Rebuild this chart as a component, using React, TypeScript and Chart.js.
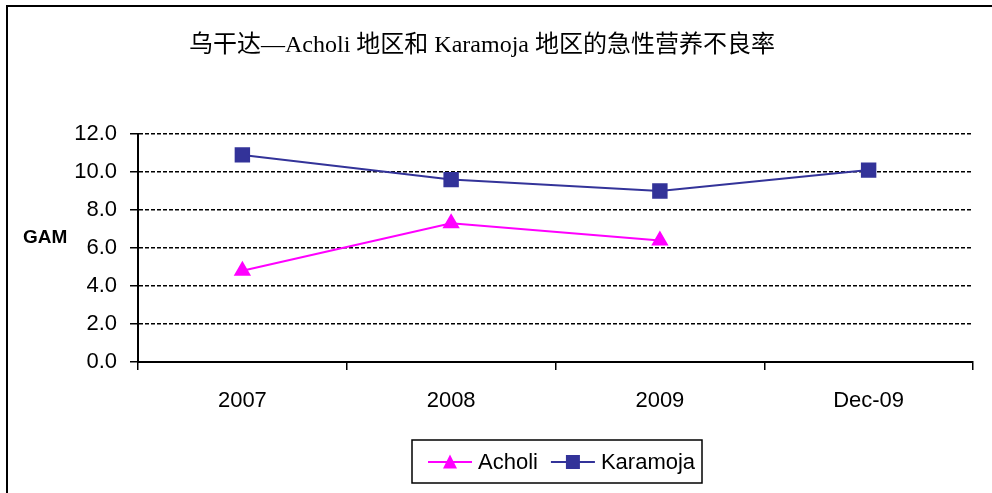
import React, { useEffect, useRef } from "react";
import { Chart, registerables } from "chart.js";

Chart.register(...registerables);

const categories = ["2007", "2008", "2009", "Dec-09"];
const acholiValues = [4.8, 7.3, 6.4, null];
const karamojaValues = [10.9, 9.6, 9.0, 10.1];
const seriesNames = ["Acholi", "Karamoja"];
const seriesColors = ["#FF00FF", "#333399"];
const seriesMarkers = ["triangle", "rect"];
const yMin = 0;
const yMax = 12;
const yStep = 2;
const titleText = "乌干达—Acholi 地区和 Karamoja 地区的急性营养不良率";
const yAxisLabel = "GAM";

const SANS = '"Liberation Sans", Arial, sans-serif';

function drawMarker(ctx: CanvasRenderingContext2D, style: string, x: number, y: number, color: string) {
  ctx.save();
  ctx.fillStyle = color;
  ctx.strokeStyle = color;
  ctx.lineWidth = 1;
  ctx.beginPath();
  if (style === "triangle") {
    ctx.moveTo(x, y - 7.5);
    ctx.lineTo(x + 7, y + 6.5);
    ctx.lineTo(x - 7, y + 6.5);
    ctx.closePath();
  } else {
    ctx.rect(x - 7, y - 7, 14, 14);
  }
  ctx.fill();
  ctx.restore();
}

const decorPlugin = {
  id: "decor",
  afterDraw(chart: any) {
    const ctx: CanvasRenderingContext2D = chart.ctx;
    ctx.save();
    // outer frame (left and top edges visible)
    ctx.strokeStyle = "#000";
    ctx.lineWidth = 2;
    ctx.beginPath();
    ctx.moveTo(7, 600);
    ctx.lineTo(7, 6);
    ctx.lineTo(1200, 6);
    ctx.stroke();

    // title
    ctx.fillStyle = "#000";
    ctx.font = '24px "Liberation Serif", "Noto Sans CJK SC", serif';
    ctx.textAlign = "center";
    ctx.textBaseline = "middle";
    ctx.fillText(titleText, 482, 46);

    // y axis label (horizontal)
    ctx.font = "bold 19px " + SANS;
    ctx.textAlign = "left";
    ctx.fillText(yAxisLabel, 23, 238);

    // legend
    const boxX = 412, boxY = 440, boxW = 290, boxH = 43;
    ctx.lineWidth = 1.5;
    ctx.strokeStyle = "#000";
    ctx.strokeRect(boxX, boxY, boxW, boxH);
    ctx.font = "22px " + SANS;
    ctx.textBaseline = "middle";
    let x = 428;
    const ly = 462;
    chart.data.datasets.forEach((ds: any) => {
      ctx.strokeStyle = ds.borderColor;
      ctx.lineWidth = 2;
      ctx.beginPath();
      ctx.moveTo(x, ly);
      ctx.lineTo(x + 44, ly);
      ctx.stroke();
      drawMarker(ctx, ds.pointStyle, x + 22, ly, ds.borderColor);
      ctx.fillStyle = "#000";
      ctx.fillText(ds.label, x + 50, ly + 1);
      const w = ctx.measureText(ds.label).width;
      x = x + 50 + w + 13;
    });
    ctx.restore();
  },
};

export default function App() {
  const ref = useRef<HTMLCanvasElement | null>(null);

  useEffect(() => {
    if (!ref.current) return;
    const chart = new Chart(ref.current, {
      type: "line",
      data: {
        labels: categories,
        datasets: [
          {
            label: seriesNames[0],
            data: acholiValues,
            borderColor: seriesColors[0],
            backgroundColor: seriesColors[0],
            pointBackgroundColor: seriesColors[0],
            pointBorderColor: seriesColors[0],
            pointStyle: seriesMarkers[0],
            pointRadius: 8,
            borderWidth: 2,
            spanGaps: false,
            fill: false,
          },
          {
            label: seriesNames[1],
            data: karamojaValues,
            borderColor: seriesColors[1],
            backgroundColor: seriesColors[1],
            pointBackgroundColor: seriesColors[1],
            pointBorderColor: seriesColors[1],
            pointStyle: seriesMarkers[1],
            pointRadius: 9.5,
            borderWidth: 2,
            fill: false,
          },
        ],
      },
      options: {
        responsive: false,
        animation: false,
        devicePixelRatio: 1,
        layout: { padding: { top: 134, right: 19, bottom: 71, left: 0 } },
        plugins: {
          legend: { display: false },
          title: { display: false },
          tooltip: { enabled: false },
        },
        scales: {
          x: {
            type: "category",
            offset: true,
            grid: {
              offset: true,
              drawOnChartArea: false,
              drawTicks: true,
              tickLength: 8,
              color: "#000",
              lineWidth: 1.5,
            },
            border: { display: true, color: "#000", width: 2 },
            ticks: {
              color: "#000",
              font: { family: SANS, size: 22 },
              padding: 18,
              maxRotation: 0,
              autoSkip: false,
            },
            afterFit: (scale: any) => {
              scale.height = 60;
            },
          },
          y: {
            min: yMin,
            max: yMax,
            grid: {
              color: "#000",
              lineWidth: 1.5,
              drawTicks: true,
              tickLength: 8,
              tickBorderDash: [],
              tickWidth: 1.5,
            },
            border: { display: true, color: "#000", width: 2, dash: [4, 2] },
            ticks: {
              stepSize: yStep,
              color: "#000",
              font: { family: SANS, size: 22 },
              padding: 13,
              callback: (v: any) => Number(v).toFixed(1),
            },
            afterFit: (scale: any) => {
              scale.width = 138;
            },
          },
        },
      },
      plugins: [decorPlugin],
    } as any);
    return () => chart.destroy();
  }, []);

  return (
    <div style={{ position: "fixed", left: 0, top: 0, width: 992, height: 493, background: "#fff" }}>
      <canvas ref={ref} width={992} height={493} style={{ display: "block", width: 992, height: 493 }} />
    </div>
  );
}
